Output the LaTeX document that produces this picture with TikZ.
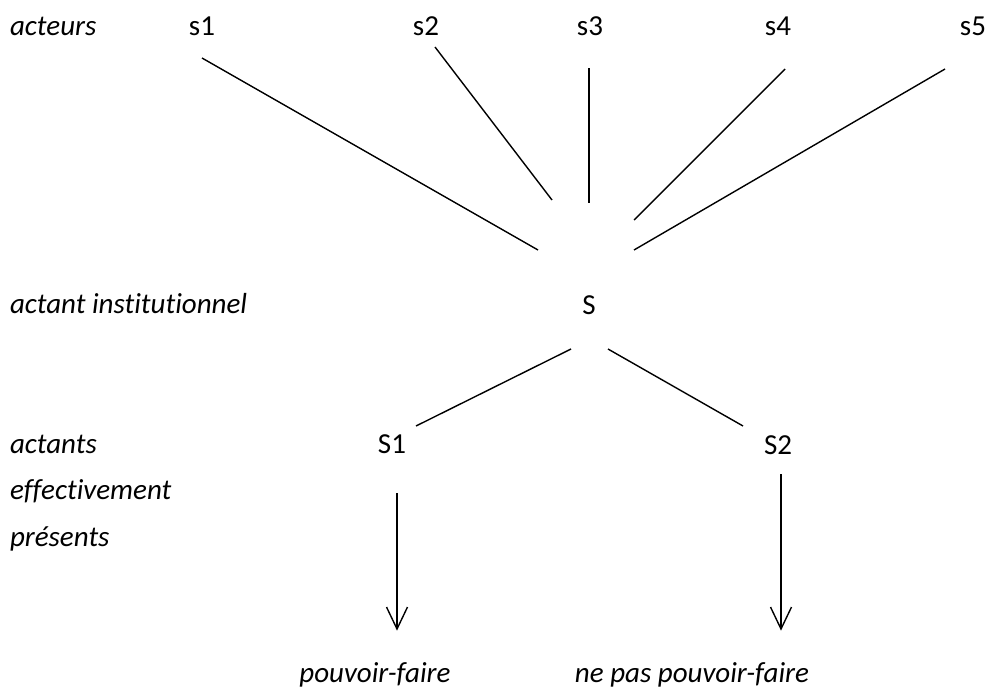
\documentclass[tikz,border=0pt]{standalone}
\usepackage{fontspec}
\setmainfont{Carlito}[Ligatures={NoCommon}]
\usetikzlibrary{calc}
\begin{document}
\begin{tikzpicture}[x=1pt,y=-1pt,
  every node/.style={inner sep=0pt,outer sep=0pt,font=\fontsize{29}{34}\selectfont},
  lab/.style={anchor=base west,font=\fontsize{29}{34}\selectfont\itshape},
  itm/.style={anchor=base},
  itl/.style={anchor=base,font=\fontsize{29}{34}\selectfont\itshape},
  link/.style={line width=1.4pt},
  vtip/.style={line width=1.4pt,line join=miter}]
\useasboundingbox (0,0) rectangle (987,691);
% left labels
\node[lab] (lacteurs) at (10,35) {acteurs};
\node[lab] (linst) at (10,313) {actant institutionnel};
\node[lab] (lact1) at (10,453) {actants};
\node[lab] (lact2) at (10,499) {effectivement};
\node[lab] (lact3) at (10,546) {présents};
% actors
\node[itm] (s1) at (202,35) {s1};
\node[itm] (s2) at (426,35) {s2};
\node[itm] (s3) at (590,35) {s3};
\node[itm] (s4) at (778,35) {s4};
\node[itm] (s5) at (973,35) {s5};
\node[itm] (S) at (589,314) {S};
\node[itm] (S1) at (392,453) {S1};
\node[itm] (S2) at (778,454) {S2};
\node[itl] (pf) at (375,682) {pouvoir-faire};
\node[itl] (npf) at (692,682) {ne pas pouvoir-faire};
% endpoints
\coordinate (s1b) at (202,58);
\coordinate (s2b) at (435,47);
\coordinate (s3b) at (589,68);
\coordinate (s4b) at (785,69);
\coordinate (s5b) at (945,69);
\coordinate (Sa1) at (538,250);
\coordinate (Sa2) at (552,200);
\coordinate (Sa3) at (589,203);
\coordinate (Sa4) at (634,220);
\coordinate (Sa5) at (634,250);
\coordinate (Sl) at (571,349);
\coordinate (Sr) at (608,349);
\coordinate (S1t) at (416,426);
\coordinate (S2t) at (743,426);
\coordinate (S1b) at (397,493);
\coordinate (S2b) at (781,474);
\coordinate (pft) at (397,629);
\coordinate (npft) at (781,629);
\draw[link] (s1b) -- (Sa1);
\draw[link] (s2b) -- (Sa2);
\draw[link] (s3b) -- (Sa3);
\draw[link] (s4b) -- (Sa4);
\draw[link] (s5b) -- (Sa5);
\draw[link] (Sl) -- (S1t);
\draw[link] (Sr) -- (S2t);
\draw[link] (S1b) -- (pft);
\draw[link] (S2b) -- (npft);
\draw[vtip] ($(pft)+(-10.5,-22)$) -- (pft) -- ($(pft)+(10.5,-22)$);
\draw[vtip] ($(npft)+(-10.5,-22)$) -- (npft) -- ($(npft)+(10.5,-22)$);
\end{tikzpicture}
\end{document}
